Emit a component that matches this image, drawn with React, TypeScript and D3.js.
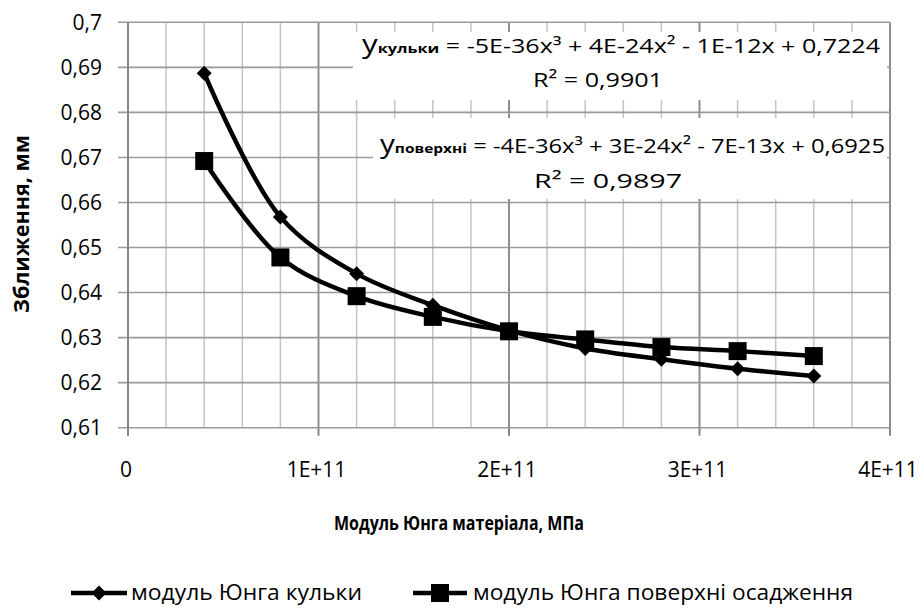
import React from "react";
import * as d3 from "d3";

// young's modulus values, Pa
const xValues = [4e10, 8e10, 1.2e11, 1.6e11, 2e11, 2.4e11, 2.8e11, 3.2e11, 3.6e11];
// approach for "модуль Юнга кульки"
const ballValues = [0.6887, 0.6568, 0.6442, 0.6372, 0.6316, 0.6276, 0.6252, 0.6231, 0.6215];
// approach for "модуль Юнга поверхні осадження"
const surfaceValues = [0.6692, 0.6478, 0.6392, 0.6346, 0.6314, 0.6296, 0.6279, 0.627, 0.6259];

const xTicks = [0, 1e11, 2e11, 3e11, 4e11];
const xTickLabels = ["0", "1E+11", "2E+11", "3E+11", "4E+11"];
const yTicks = [0.61, 0.62, 0.63, 0.64, 0.65, 0.66, 0.67, 0.68, 0.69, 0.7];
const yTickLabels = ["0,61", "0,62", "0,63", "0,64", "0,65", "0,66", "0,67", "0,68", "0,69", "0,7"];

const seriesNames = ["модуль Юнга кульки", "модуль Юнга поверхні осадження"];
const eqSubs = ["кульки", "поверхні"];
const eqBodies = [
  " = -5E-36x³ + 4E-24x² - 1E-12x + 0,7224",
  " = -4E-36x³ + 3E-24x² - 7E-13x + 0,6925",
];
const r2Labels = ["R² = 0,9901", "R² = 0,9897"];

const font = "'Open Sans', 'Noto Sans', sans-serif";

export default function App() {
  const W = 924;
  const H = 608;
  const x = d3.scaleLinear().domain([0, 4e11]).range([128, 890]);
  const y = d3.scaleLinear().domain([0.61, 0.7]).range([427.7, 22.3]);

  const minorX = d3.range(0, 4e11 + 1, 2e10);

  const line = d3
    .line<number>()
    .x((d, i) => x(xValues[i]))
    .y(d => y(d))
    .curve(d3.curveCatmullRom.alpha(0.5));

  const diamond = (cx: number, cy: number, r: number) =>
    `M${cx},${cy - r}L${cx + r},${cy}L${cx},${cy + r}L${cx - r},${cy}Z`;

  const left = x(0);
  const right = x(4e11);
  const top = y(0.7);
  const bottom = y(0.61);

  // equation boxes
  const boxes = [
    { x0: 353, y0: 32, x1: 887, y1: 100, tx: 362, ty: 53, tl: 518, rx: 533, ry: 87, rl: 130 },
    { x0: 373, y0: 118, x1: 887, y1: 199, tx: 380, ty: 153, tl: 505, rx: 534, ry: 188, rl: 148 },
  ];

  return (
    <svg
      width={W}
      height={H}
      style={{ position: "absolute", left: 0, top: 0, background: "#fff" }}
    >
      {/* minor vertical grid */}
      {minorX.map(v => (
        <line
          key={"mx" + v}
          x1={x(v)}
          x2={x(v)}
          y1={top}
          y2={bottom}
          stroke={xTicks.includes(v) ? "#8e8e8e" : "#c4c4c4"}
          strokeWidth={xTicks.includes(v) ? 2 : 1.5}
        />
      ))}
      {/* horizontal grid */}
      {yTicks.map(v => (
        <line
          key={"gy" + v}
          x1={left - 10}
          x2={right}
          y1={y(v)}
          y2={y(v)}
          stroke="#9a9a9a"
          strokeWidth={1.6}
        />
      ))}
      {/* axes */}
      <line x1={left} x2={left} y1={top} y2={bottom + 8} stroke="#868686" strokeWidth={2} />
      {xTicks.map(v => (
        <line key={"xt" + v} x1={x(v)} x2={x(v)} y1={bottom} y2={bottom + 8} stroke="#868686" strokeWidth={2} />
      ))}

      {/* equation boxes */}
      {boxes.map((b, i) => (
        <g key={"box" + i}>
          <rect x={b.x0} y={b.y0} width={b.x1 - b.x0} height={b.y1 - b.y0} fill="#fff" />
          <text
            x={b.tx}
            y={b.ty}
            fontFamily={font}
            fontSize={20}
            fill="#000"
            textLength={b.tl}
            lengthAdjust="spacingAndGlyphs"
          >
            <tspan fontSize={25}>y</tspan>
            <tspan fontSize={13} fontWeight="bold">{eqSubs[i]}</tspan>
            <tspan>{eqBodies[i]}</tspan>
          </text>
          <text
            x={b.rx}
            y={b.ry}
            fontFamily={font}
            fontSize={20}
            fill="#000"
            textLength={b.rl}
            lengthAdjust="spacingAndGlyphs"
          >
            {r2Labels[i]}
          </text>
        </g>
      ))}

      {/* series lines */}
      <path d={line(ballValues) || ""} fill="none" stroke="#000" strokeWidth={4.5} />
      <path d={line(surfaceValues) || ""} fill="none" stroke="#000" strokeWidth={4.5} />
      {ballValues.map((v, i) => (
        <path key={"d" + i} d={diamond(x(xValues[i]), y(v), 7.5)} fill="#000" />
      ))}
      {surfaceValues.map((v, i) => (
        <rect key={"s" + i} x={x(xValues[i]) - 9} y={y(v) - 9} width={18} height={18} fill="#000" />
      ))}

      {/* tick labels */}
      {yTicks.map((v, i) => (
        <text
          key={"yl" + v}
          x={102}
          y={y(v)}
          dy="0.36em"
          textAnchor="end"
          fontFamily={font}
          fontSize={21}
          fill="#000"
        >
          {yTickLabels[i]}
        </text>
      ))}
      {xTicks.map((v, i) => (
        <text
          key={"xl" + v}
          x={x(v) - 2}
          y={477}
          textAnchor="middle"
          fontFamily={font}
          fontSize={21}
          fill="#000"
        >
          {xTickLabels[i]}
        </text>
      ))}

      {/* axis titles */}
      <text
        x={459}
        y={530}
        textAnchor="middle"
        fontFamily={font}
        fontSize={20}
        fontWeight="bold"
        fill="#000"
        textLength={250}
        lengthAdjust="spacingAndGlyphs"
      >
        Модуль Юнга матеріала, МПа
      </text>
      <text
        transform="translate(29,224) rotate(-90)"
        textAnchor="middle"
        fontFamily={font}
        fontSize={21}
        fontWeight="bold"
        fill="#000"
        textLength={178}
        lengthAdjust="spacingAndGlyphs"
      >
        Зближення, мм
      </text>

      {/* legend */}
      <line x1={71} x2={127} y1={593} y2={593} stroke="#000" strokeWidth={4.5} />
      <path d={diamond(99, 593, 7.5)} fill="#000" />
      <text
        x={131}
        y={600}
        fontFamily={font}
        fontSize={21}
        fill="#000"
        textLength={231}
        lengthAdjust="spacingAndGlyphs"
      >
        {seriesNames[0]}
      </text>
      <line x1={413} x2={467} y1={593} y2={593} stroke="#000" strokeWidth={4.5} />
      <rect x={431} y={584} width={18} height={18} fill="#000" />
      <text
        x={473}
        y={600}
        fontFamily={font}
        fontSize={21}
        fill="#000"
        textLength={380}
        lengthAdjust="spacingAndGlyphs"
      >
        {seriesNames[1]}
      </text>
    </svg>
  );
}
